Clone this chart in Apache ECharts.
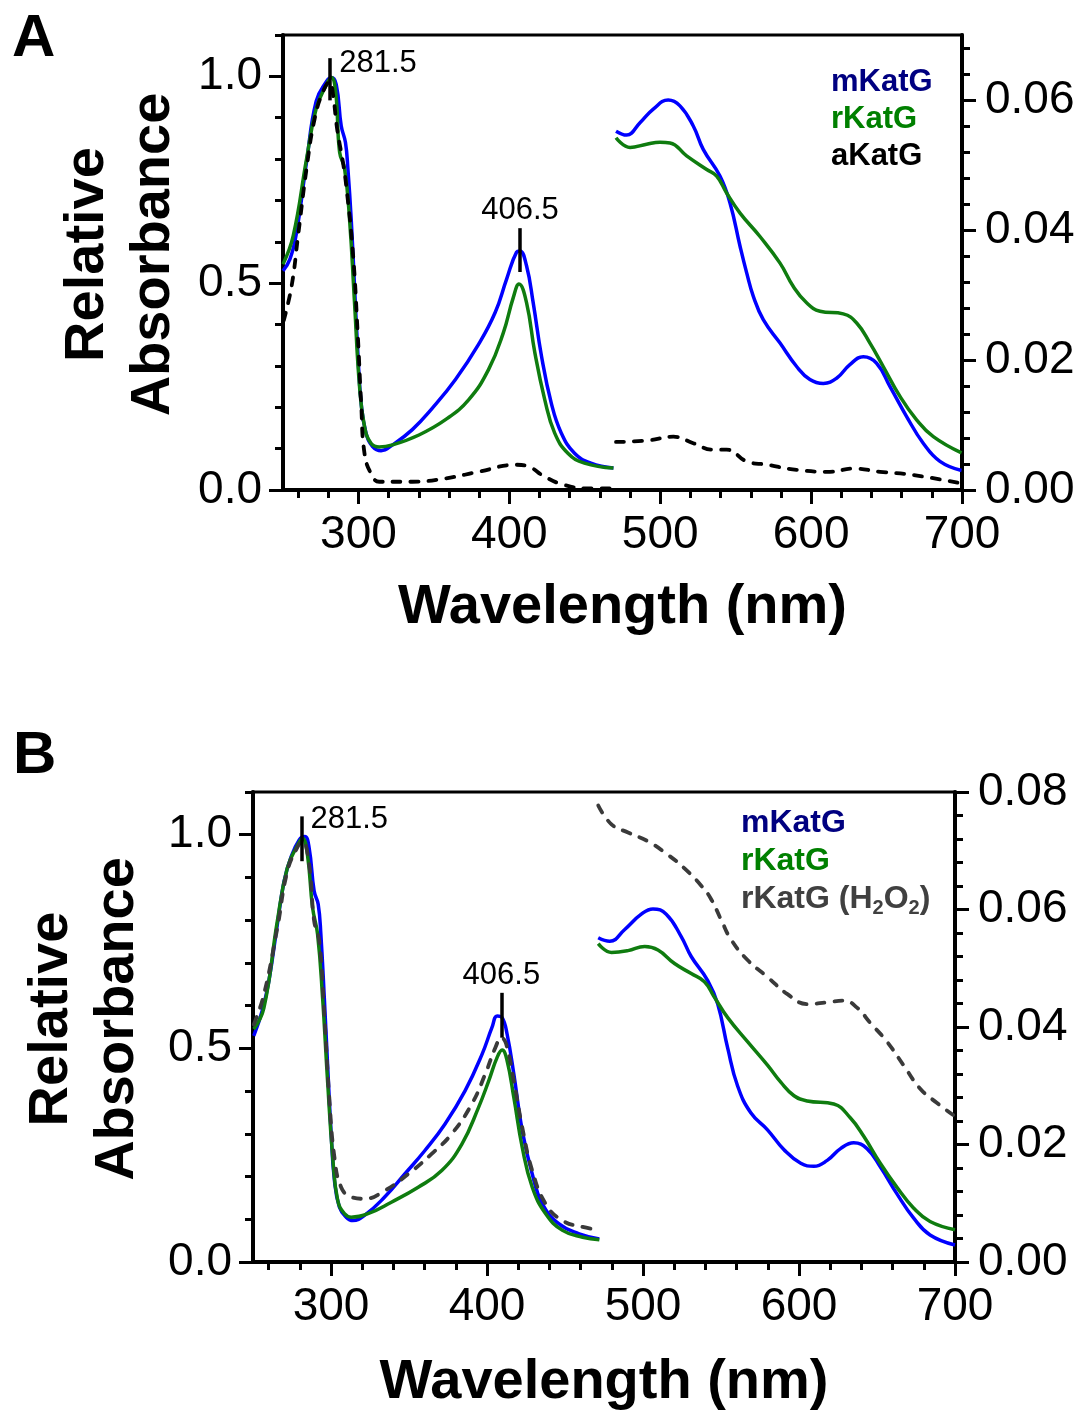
<!DOCTYPE html>
<html><head><meta charset="utf-8">
<script src="https://cdn.jsdelivr.net/npm/echarts@6/dist/echarts.min.js"></script>
<style>html,body{margin:0;padding:0;background:#fff}#chart{width:1083px;height:1413px}</style>
</head><body><div id="chart"></div><script>
// ---------- tick / label values ----------
const xMajorTicks = [300, 400, 500, 600, 700];
const xMinorTicks = [260, 280, 320, 340, 360, 380, 420, 440, 460, 480, 520, 540, 560, 580, 620, 640, 660, 680];
const yLeftMajor = [0, 0.5, 1.0];
const yLeftMinor = [0.1, 0.2, 0.3, 0.4, 0.6, 0.7, 0.8, 0.9, 1.1];
const yRightMajorA = [0, 0.02, 0.04, 0.06];
const yRightMinorA = [0.004, 0.008, 0.012, 0.016, 0.024, 0.028, 0.032, 0.036, 0.044, 0.048, 0.052, 0.056, 0.064, 0.068];
const yRightMajorB = [0, 0.02, 0.04, 0.06, 0.08];
const yRightMinorB = [0.004, 0.008, 0.012, 0.016, 0.024, 0.028, 0.032, 0.036, 0.044, 0.048, 0.052, 0.056, 0.064, 0.068, 0.072, 0.076];

// ---------- Panel A : UV region (left axis, relative absorbance) ----------
const A_m_uv_nm = [250, 254.6, 259, 265.6, 272, 278.7, 282, 285.3, 288.6, 291.4, 293, 295.2, 297.4, 299.6, 301.8, 305, 309.4, 315, 322.6, 335.7, 349, 364.3, 379.6, 390.6, 398.2, 404.8, 407, 411.4, 415.8, 421.3, 427.8, 434.4, 443.2, 454.1, 469];
const A_m_uv_abs = [0.53, 0.558, 0.623, 0.793, 0.94, 0.987, 0.997, 0.98, 0.88, 0.84, 0.777, 0.655, 0.493, 0.332, 0.21, 0.138, 0.105, 0.095, 0.109, 0.146, 0.198, 0.267, 0.352, 0.429, 0.51, 0.575, 0.578, 0.542, 0.453, 0.324, 0.21, 0.138, 0.089, 0.065, 0.053];
const A_r_uv_nm = [250, 256.8, 265.6, 272, 278.7, 282, 284.9, 287.5, 290.8, 294.1, 297.4, 300.7, 304, 308.3, 313.8, 322.6, 340.1, 357.7, 373, 386.2, 396, 402.6, 406.4, 411.4, 416.9, 423.5, 430, 438.8, 449.8, 469];
const A_r_uv_abs = [0.546, 0.615, 0.80, 0.922, 0.979, 0.997, 0.963, 0.817, 0.777, 0.655, 0.453, 0.251, 0.154, 0.113, 0.104, 0.109, 0.133, 0.17, 0.218, 0.291, 0.38, 0.465, 0.498, 0.453, 0.332, 0.218, 0.138, 0.089, 0.065, 0.053];
const A_a_uv_nm = [250.5, 255.7, 260, 265.6, 271, 276.5, 281, 283, 286, 289.7, 291.9, 296.3, 299.6, 301.8, 304, 308.3, 313.8, 335.7, 357.7, 379.6, 404.8, 412.5, 423.5, 436.6, 452, 469];
const A_a_uv_abs = [0.41, 0.493, 0.615, 0.777, 0.898, 0.963, 0.987, 0.96, 0.87, 0.793, 0.736, 0.575, 0.372, 0.21, 0.089, 0.04, 0.02, 0.02, 0.028, 0.044, 0.061, 0.057, 0.032, 0.012, 0.004, 0.004];

// ---------- Panel A : visible region (right axis) ----------
const A_m_vis_nm = [470.7, 477.7, 486.6, 495.4, 505.3, 513.1, 521.9, 528.5, 539.6, 546.2, 552.9, 557.3, 561.7, 568.3, 579.4, 590.4, 599.2, 608.1, 616.9, 625.7, 634.6, 643.4, 652.3, 663.3, 674.3, 685.4, 699.7];
const A_m_vis_abs = [0.0552, 0.0546, 0.0565, 0.0586, 0.0600, 0.0591, 0.0560, 0.0524, 0.0483, 0.0442, 0.0375, 0.0334, 0.0298, 0.0262, 0.0226, 0.0190, 0.0170, 0.0164, 0.0172, 0.0193, 0.0205, 0.0195, 0.0159, 0.0113, 0.0072, 0.0044, 0.0030];
const A_r_vis_nm = [470.7, 480, 491, 499.8, 506.5, 517.5, 530.8, 537.4, 544, 552.9, 566.1, 579.4, 588.2, 597, 605.9, 621.3, 630.2, 639, 647.8, 658.9, 669.9, 681, 699.7];
const A_r_vis_abs = [0.0542, 0.0527, 0.0532, 0.0535, 0.0534, 0.0514, 0.0493, 0.0483, 0.0457, 0.0426, 0.039, 0.0349, 0.0313, 0.0288, 0.0275, 0.0271, 0.0257, 0.0226, 0.019, 0.0144, 0.0108, 0.0082, 0.0057];
const A_a_vis_nm = [470.7, 491, 508.7, 521.9, 535.2, 544, 557.3, 570.5, 590.4, 612.5, 628, 645.7, 667.8, 699.7];
const A_a_vis_abs = [0.0074, 0.0076, 0.0082, 0.0072, 0.0062, 0.0062, 0.0044, 0.0039, 0.0031, 0.0028, 0.0033, 0.0028, 0.0023, 0.001];

// ---------- Panel B : UV region ----------
const B_m_uv_nm = [250.5, 255.9, 260.2, 265.6, 269.9, 274.2, 279.6, 283.2, 286, 289.2, 291.8, 293.5, 295.7, 297.8, 300, 302.2, 305.4, 309.7, 314, 321.5, 334.4, 347.3, 360.2, 373.1, 386, 396.8, 403.2, 406.5, 409.7, 412.9, 417.2, 422.6, 429, 435.5, 446.2, 459.1, 472];
const B_m_uv_abs = [0.529, 0.588, 0.658, 0.79, 0.891, 0.946, 0.988, 0.996, 0.969, 0.868, 0.837, 0.767, 0.619, 0.463, 0.307, 0.191, 0.128, 0.105, 0.097, 0.109, 0.152, 0.206, 0.261, 0.323, 0.401, 0.486, 0.549, 0.576, 0.572, 0.533, 0.44, 0.307, 0.206, 0.136, 0.089, 0.066, 0.054];
const B_r_uv_nm = [250.5, 257, 265.6, 272, 278.5, 281.7, 284.9, 288.2, 291.4, 294.6, 297.8, 301.1, 304.3, 308.6, 312.9, 323.7, 338.7, 355.9, 371, 383.9, 394.6, 401.1, 406.5, 409.7, 412.9, 417.2, 422.6, 429, 437.6, 448.4, 461.3, 472];
const B_r_uv_abs = [0.545, 0.595, 0.798, 0.922, 0.975, 0.992, 0.953, 0.829, 0.767, 0.619, 0.424, 0.245, 0.144, 0.113, 0.105, 0.113, 0.14, 0.175, 0.214, 0.276, 0.362, 0.424, 0.479, 0.496, 0.471, 0.385, 0.268, 0.175, 0.113, 0.074, 0.058, 0.052];
const B_h_uv_nm = [250.5, 257, 265.6, 272, 278.5, 281.7, 286, 289.2, 292.5, 295.7, 298.9, 302.2, 306.5, 312.9, 321.5, 334.4, 349.5, 364.5, 377.4, 390.3, 398.9, 405.4, 409.2, 412.3, 417.2, 422.6, 429, 437.6, 448.4, 461.3, 472];
const B_h_uv_abs = [0.556, 0.626, 0.782, 0.914, 0.971, 0.985, 0.93, 0.798, 0.751, 0.58, 0.385, 0.245, 0.175, 0.152, 0.148, 0.167, 0.206, 0.253, 0.3, 0.37, 0.44, 0.502, 0.525, 0.51, 0.424, 0.315, 0.214, 0.136, 0.097, 0.082, 0.075];

// ---------- Panel B : visible region ----------
const B_m_vis_nm = [471.3, 478.7, 488.3, 498.9, 506.4, 514.9, 524.5, 530.9, 541.5, 547.9, 554.3, 560.6, 569.1, 579.8, 590.4, 601.1, 609.6, 618.1, 626.6, 635.1, 643.6, 652.1, 662.8, 673.4, 684, 700];
const B_m_vis_abs = [0.0552, 0.0546, 0.0566, 0.0592, 0.0601, 0.0592, 0.0554, 0.052, 0.0479, 0.0439, 0.0364, 0.030, 0.0254, 0.0225, 0.0191, 0.0168, 0.0163, 0.0173, 0.0193, 0.0203, 0.0193, 0.0162, 0.0116, 0.0075, 0.0046, 0.0029];
const B_r_vis_nm = [471.3, 479.8, 490.4, 501.1, 509.6, 520.2, 530.9, 539.4, 545.7, 554.3, 567, 579.8, 588.3, 596.8, 605.3, 622.3, 633, 641.5, 652.1, 662.8, 673.4, 684, 700];
const B_r_vis_abs = [0.0542, 0.0527, 0.053, 0.0537, 0.0531, 0.0508, 0.0491, 0.0477, 0.0451, 0.0416, 0.0375, 0.0335, 0.0306, 0.0283, 0.0274, 0.0269, 0.0245, 0.0214, 0.0168, 0.0127, 0.0092, 0.0069, 0.0055];
const B_h_vis_nm = [471.3, 479.8, 490.4, 503.2, 516, 526.6, 537.2, 543.6, 550, 556.4, 567, 579.8, 592.6, 605.3, 618.1, 628.7, 637.2, 645.7, 656.4, 667, 677.7, 688.3, 700];
const B_h_vis_abs = [0.0777, 0.0745, 0.0731, 0.0716, 0.0693, 0.067, 0.0641, 0.0618, 0.0583, 0.0549, 0.0514, 0.0485, 0.0456, 0.0439, 0.0442, 0.0445, 0.0433, 0.0407, 0.0375, 0.0335, 0.0295, 0.0271, 0.0248];

// ---------- peak annotations ----------
const peakTextA = ['281.5', '406.5'];
const peakNmA = [281.3, 407.1];
const peakLowA = [0.942, 0.527];
const peakHighA = [1.044, 0.633];
const peakTextB = ['281.5', '406.5'];
const peakNmB = [281.1, 409.2];
const peakLowB = [0.938, 0.525];
const peakHighB = [1.043, 0.63];

// ---------- styling ----------
const FONT = "'Liberation Sans', Arial, Helvetica, sans-serif";
const BLUE = '#0000ff', GREEN = '#0f7c0f', BLACK = '#000000', GREY = '#3a3a3a';

const zip = (xs, ys) => xs.map((x, i) => [x, ys[i]]);

function xAx(grid, major, nameGap) {
  return {
    type: 'value', gridIndex: grid, min: 250, max: 700, position: 'bottom',
    splitLine: { show: false },
    axisLine: { show: major, onZero: false, lineStyle: { color: '#000', width: 4 } },
    axisTick: { show: true, length: major ? 14 : 8, lineStyle: { color: '#000', width: 3 }, customValues: major ? xMajorTicks : xMinorTicks },
    axisLabel: { show: major, customValues: xMajorTicks, margin: 22, fontSize: 46, color: '#000', fontFamily: FONT },
    name: major ? 'Wavelength (nm)' : '', nameLocation: 'middle', nameGap: nameGap,
    nameTextStyle: { fontSize: 56, fontWeight: 'bold', color: '#000', fontFamily: FONT }
  };
}
function yAx(grid, pos, max, major, ticks, labels, digits, nameGap) {
  const o = {
    type: 'value', gridIndex: grid, position: pos, offset: 0, min: 0, max: max,
    splitLine: { show: false },
    axisLine: { show: major, onZero: false, lineStyle: { color: '#000', width: 4 } },
    axisTick: { show: true, length: major ? 14 : 8, lineStyle: { color: '#000', width: 3 }, customValues: ticks },
    axisLabel: { show: major, customValues: labels, margin: pos === 'left' ? 21 : 23, fontSize: 46, color: '#000', fontFamily: FONT,
      formatter: v => Number(v).toFixed(digits) }
  };
  if (nameGap) {
    o.name = 'Relative\nAbsorbance';
    o.nameLocation = 'middle';
    o.nameRotate = 90;
    o.nameGap = nameGap;
    o.nameTextStyle = { fontSize: 56, fontWeight: 'bold', color: '#000', fontFamily: FONT, lineHeight: 66, padding: [0, 0, 0, 16] };
  }
  return o;
}

function lineSeries(name, xi, yi, data, color, dashed, z) {
  return {
    type: 'line', name: name, xAxisIndex: xi, yAxisIndex: yi, data: data,
    showSymbol: false, symbol: 'none', smooth: 0.45, z: z,
    lineStyle: dashed
      ? { color: color, width: 3.8, type: [8, 10], cap: 'round', join: 'round' }
      : { color: color, width: 3.5, type: 'solid', cap: 'butt', join: 'round' },
    itemStyle: { color: color }, animation: false
  };
}
function peakSeries(xi, yi, nm, low, high, texts, posArr) {
  return {
    type: 'scatter', xAxisIndex: xi, yAxisIndex: yi, symbolSize: 0, z: 10,
    itemStyle: { color: '#000' }, silent: true,
    data: nm.map((x, i) => ({ value: [x, high[i]], label: posArr[i] })),
    label: { show: true, fontSize: 31, color: '#000', opacity: 1, fontFamily: FONT, formatter: p => texts[p.dataIndex] },
    markLine: {
      silent: true, symbol: ['none', 'none'], label: { show: false }, animation: false,
      lineStyle: { color: '#000', width: 3.5, type: 'solid', opacity: 1 },
      data: nm.map((x, i) => [{ coord: [x, low[i]] }, { coord: [x, high[i]] }])
    }
  };
}

const option = {
  animation: false,
  backgroundColor: '#fff',
  title: [
    { text: 'A', left: 12, top: 9, padding: 0, textStyle: { fontSize: 60, fontWeight: 'bold', color: '#000', fontFamily: FONT } },
    { text: 'B', left: 13, top: 726, padding: 0, textStyle: { fontSize: 60, fontWeight: 'bold', color: '#000', fontFamily: FONT } }
  ],
  grid: [
    { left: 283, top: 35, width: 679, height: 455, show: true, borderColor: '#000', borderWidth: 3, containLabel: false },
    { left: 253, top: 792, width: 702, height: 470, show: true, borderColor: '#000', borderWidth: 3, containLabel: false }
  ],
  legend: [
    { orient: 'vertical', left: 821, top: 59, icon: 'none', itemWidth: 0, itemHeight: 0, itemGap: 0, selectedMode: false,
      textStyle: { fontSize: 31, fontWeight: 'bold', fontFamily: FONT, lineHeight: 37 },
      data: [ { name: 'mKatG', textStyle: { color: '#000080' } }, { name: 'rKatG', textStyle: { color: '#008000' } }, { name: 'aKatG', textStyle: { color: '#000' } } ] },
    { orient: 'vertical', left: 731, top: 799, icon: 'none', itemWidth: 0, itemHeight: 0, itemGap: 0, selectedMode: false,
      textStyle: { fontSize: 32, fontWeight: 'bold', fontFamily: FONT, lineHeight: 38,
        rich: { s: { fontSize: 20, fontWeight: 'bold', color: '#404040', fontFamily: FONT, lineHeight: 14, verticalAlign: 'bottom' } } },
      formatter: n => n === 'rKatG (H2O2)' ? 'rKatG (H{s|2}O{s|2})' : n,
      data: [ { name: 'mKatG', textStyle: { color: '#000080' } }, { name: 'rKatG', textStyle: { color: '#008000' } }, { name: 'rKatG (H2O2)', textStyle: { color: '#404040' } } ] }
  ],
  xAxis: [ xAx(0, true, 90), xAx(0, false, 0), xAx(1, true, 93), xAx(1, false, 0) ],
  yAxis: [
    yAx(0, 'left', 1.1, true, yLeftMajor, yLeftMajor, 1, 96),
    yAx(0, 'left', 1.1, false, yLeftMinor, yLeftMajor, 1, 0),
    yAx(0, 'right', 0.07, true, yRightMajorA, yRightMajorA, 2, 0),
    yAx(0, 'right', 0.07, false, yRightMinorA, yRightMajorA, 2, 0),
    yAx(1, 'left', 1.1, true, yLeftMajor, yLeftMajor, 1, 102),
    yAx(1, 'left', 1.1, false, yLeftMinor, yLeftMajor, 1, 0),
    yAx(1, 'right', 0.08, true, yRightMajorB, yRightMajorB, 2, 0),
    yAx(1, 'right', 0.08, false, yRightMinorB, yRightMajorB, 2, 0)
  ],
  series: [
    lineSeries('mKatG', 0, 0, zip(A_m_uv_nm, A_m_uv_abs), BLUE, false, 2),
    lineSeries('rKatG', 0, 0, zip(A_r_uv_nm, A_r_uv_abs), GREEN, false, 3),
    lineSeries('aKatG', 0, 0, zip(A_a_uv_nm, A_a_uv_abs), BLACK, true, 4),
    lineSeries('mKatG', 0, 2, zip(A_m_vis_nm, A_m_vis_abs), BLUE, false, 2),
    lineSeries('rKatG', 0, 2, zip(A_r_vis_nm, A_r_vis_abs), GREEN, false, 3),
    lineSeries('aKatG', 0, 2, zip(A_a_vis_nm, A_a_vis_abs), BLACK, true, 4),
    peakSeries(0, 0, peakNmA, peakLowA, peakHighA, peakTextA, [{ position: 'right', distance: 9, offset: [0, 5] }, { position: 'top', distance: 2 }]),

    lineSeries('mKatG', 2, 4, zip(B_m_uv_nm, B_m_uv_abs), BLUE, false, 2),
    lineSeries('rKatG', 2, 4, zip(B_r_uv_nm, B_r_uv_abs), GREEN, false, 3),
    lineSeries('rKatG (H2O2)', 2, 4, zip(B_h_uv_nm, B_h_uv_abs), GREY, true, 4),
    lineSeries('mKatG', 2, 6, zip(B_m_vis_nm, B_m_vis_abs), BLUE, false, 2),
    lineSeries('rKatG', 2, 6, zip(B_r_vis_nm, B_r_vis_abs), GREEN, false, 3),
    lineSeries('rKatG (H2O2)', 2, 6, zip(B_h_vis_nm, B_h_vis_abs), GREY, true, 4),
    peakSeries(2, 4, peakNmB, peakLowB, peakHighB, peakTextB, [{ position: 'right', distance: 9, offset: [0, 3] }, { position: 'top', distance: 2 }])
  ]
};

const chart = echarts.init(document.getElementById('chart'), null, { renderer: 'canvas' });
chart.setOption(option);
</script></body></html>
